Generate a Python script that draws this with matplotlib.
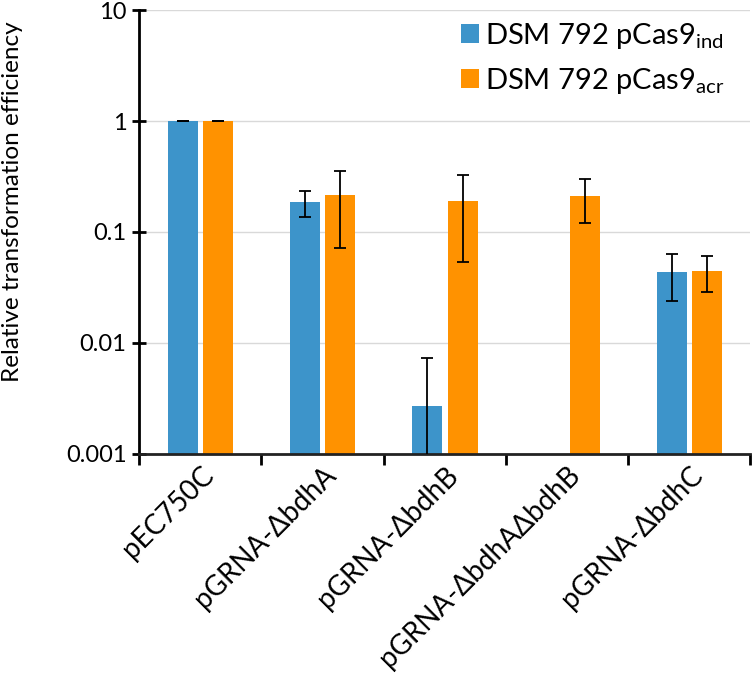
import numpy as np
import matplotlib.pyplot as plt

plt.rcParams['font.family'] = ['Lato', 'DejaVu Sans']

categories = ['pEC750C', 'pGRNA-\u0394bdhA', 'pGRNA-\u0394bdhB',
              'pGRNA-\u0394bdhA\u0394bdhB', 'pGRNA-\u0394bdhC']

# DSM 792 pCas9_ind (no bar for the double deletion)
ind_val = [1.0, 0.185, 0.00266, np.nan, 0.0439]
ind_lo = [1.0, 0.135, 0.0002, np.nan, 0.0237]
ind_hi = [1.0, 0.233, 0.00728, np.nan, 0.0633]

# DSM 792 pCas9_acr
acr_val = [1.0, 0.215, 0.189, 0.21, 0.0448]
acr_lo = [1.0, 0.071, 0.053, 0.12, 0.0289]
acr_hi = [1.0, 0.356, 0.325, 0.30, 0.0603]

blue = '#3D94CA'
orange = '#FF9200'

fig = plt.figure(figsize=(7.52, 6.82), dpi=100)
ax = fig.add_axes([0.185, 0.335, 0.813, 0.65])

x = np.arange(len(categories))
w = 0.245
off = 0.145

ind_val = np.array(ind_val)
acr_val = np.array(acr_val)
ind_err = [ind_val - np.array(ind_lo), np.array(ind_hi) - ind_val]
acr_err = [acr_val - np.array(acr_lo), np.array(acr_hi) - acr_val]

ax.bar(x - off, ind_val, w, color=blue, label='DSM 792 pCas9$_{\\mathregular{ind}}$', zorder=2)
ax.bar(x + off, acr_val, w, color=orange, label='DSM 792 pCas9$_{\\mathregular{acr}}$', zorder=2)
ax.errorbar(x - off, ind_val, yerr=ind_err, fmt='none', ecolor='black',
            elinewidth=1.3, capsize=4, capthick=1.3, zorder=3)
ax.errorbar(x + off, acr_val, yerr=acr_err, fmt='none', ecolor='black',
            elinewidth=1.3, capsize=4, capthick=1.3, zorder=3)

ax.set_yscale('log')
ax.set_ylim(0.001, 10)
ax.set_xlim(-0.5, len(categories) - 0.5)
ax.set_yticks([0.001, 0.01, 0.1, 1, 10])
ax.set_yticklabels(['0.001', '0.01', '0.1', '1', '10'])
ax.minorticks_off()
ax.yaxis.grid(True, color='#D9D9D9', linewidth=1, zorder=0)
ax.set_axisbelow(True)

ax.set_xticks(np.arange(-0.5, len(categories)), minor=False)
ax.set_xticklabels([])
ax.set_xticks(x, minor=True)
ax.set_xticklabels(categories, minor=True, rotation=45, ha='right',
                   rotation_mode='anchor', fontsize=20)
ax.tick_params(axis='x', which='minor', length=0, pad=6)
ax.tick_params(axis='x', which='major', length=8, width=2, direction='out')
ax.tick_params(axis='y', length=10, width=2, direction='inout', labelsize=17, pad=4)

for s in ['top', 'right']:
    ax.spines[s].set_visible(False)
ax.spines['left'].set_linewidth(2)
ax.spines['bottom'].set_linewidth(2)
ax.spines['bottom'].set_color('#222222')

ax.set_ylabel('Relative transformation efficiency', fontsize=17.5)
ax.yaxis.set_label_coords(-0.19, 0.567)

ax.legend(loc='upper right', frameon=False, fontsize=21, handlelength=0.6,
          handleheight=0.6, handletextpad=0.2, labelspacing=0.5,
          bbox_to_anchor=(1.0, 1.035))

plt.savefig('out.png', dpi=100)
